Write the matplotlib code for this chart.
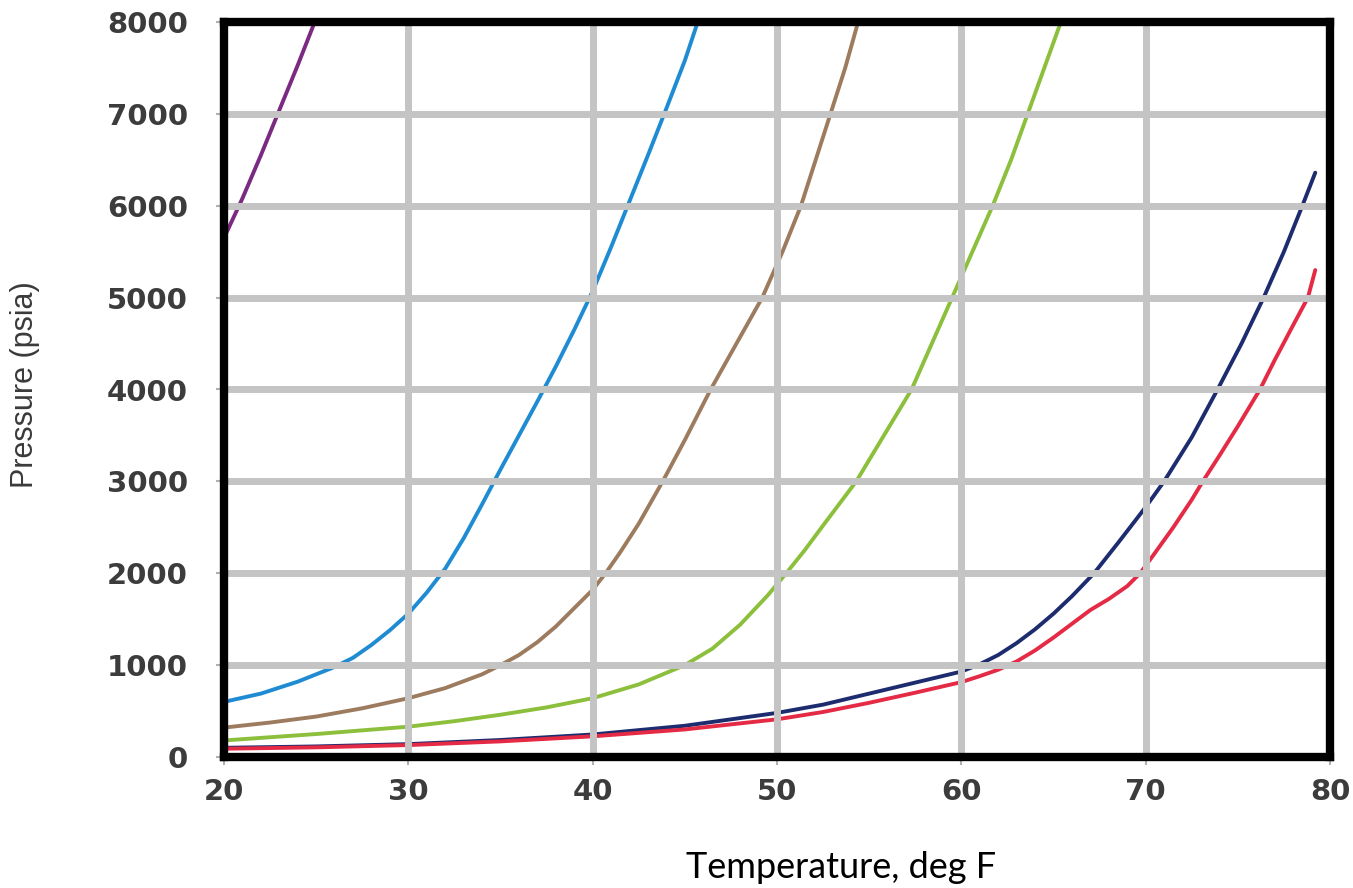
import matplotlib
matplotlib.use("Agg")
import matplotlib.pyplot as plt
from matplotlib.font_manager import FontProperties

# ---- data ----
purple_T = [20, 21, 22, 23, 24, 25]
purple_P = [5650, 6080, 6550, 7040, 7530, 8040]

blue_T = [20, 22, 24, 26, 27, 28, 29, 30, 31, 32, 33, 34, 35, 36, 37, 38, 39, 40,
          41, 42, 43, 44, 45, 45.7]
blue_P = [600, 690, 820, 980, 1080, 1220, 1380, 1560, 1790, 2050, 2380, 2750, 3130,
          3500, 3870, 4250, 4650, 5070, 5550, 6050, 6550, 7060, 7580, 8000]

brown_T = [20, 22.5, 25, 27.5, 30, 32, 34, 35, 36, 37, 38, 39, 40, 40.7, 41.5, 42.5,
           43.8, 45, 46.4, 47.8, 49.2, 50.3, 51.3, 52.1, 52.9, 53.7, 54.4]
brown_P = [320, 375, 440, 530, 640, 750, 900, 1000, 1110, 1250, 1420, 1620, 1820, 2000,
           2230, 2540, 3000, 3450, 4000, 4500, 5000, 5500, 6000, 6500, 7000, 7500, 8000]

green_T = [20, 22.5, 25, 27.5, 30, 32.5, 35, 37.5, 40, 42.5, 45, 46.5, 48, 49.5, 50.5,
           51.5, 52.5, 54.3, 55.8, 57.3, 58.4, 59.5, 60.6, 61.7, 62.7, 63.6, 64.5, 65.4]
green_P = [180, 215, 250, 290, 330, 390, 460, 540, 640, 790, 1000, 1180, 1440, 1760, 2000,
           2250, 2520, 3000, 3500, 4000, 4500, 5000, 5500, 6000, 6500, 7000, 7500, 8000]

navy_T = [20, 25, 30, 35, 40, 45, 50, 52.5, 55, 57.5, 60, 61, 62, 63, 64, 65, 66, 67.2,
          68.5, 70, 71, 72.5, 73.9, 75.2, 76.4, 77.5, 78.5, 79.2]
navy_P = [100, 115, 140, 185, 245, 340, 480, 570, 690, 810, 930, 1010, 1110, 1240, 1390,
          1560, 1750, 2000, 2330, 2720, 3000, 3480, 4000, 4500, 5000, 5500, 6000, 6360]

red_T = [20, 25, 30, 35, 40, 45, 50, 52.5, 55, 57.5, 60, 61, 62, 63, 64, 65, 66, 67,
         68, 69, 69.7, 70.5, 71.5, 72.5, 73.1, 74, 75, 76.2, 77, 78, 78.8, 79.2]
red_P = [90, 105, 130, 170, 225, 300, 410, 490, 590, 700, 815, 880, 950, 1040, 1160, 1300,
         1450, 1600, 1720, 1860, 2000, 2220, 2500, 2800, 3000, 3280, 3600, 4000, 4320, 4700,
         5000, 5300]

x_ticks = [20, 30, 40, 50, 60, 70, 80]
y_ticks = [0, 1000, 2000, 3000, 4000, 5000, 6000, 7000, 8000]

W, H = 1353, 888
fig = plt.figure(figsize=(W / 100, H / 100), dpi=100)
fig.patch.set_facecolor("white")
ax = fig.add_axes([224 / W, 1 - 757 / H, 1106 / W, 735 / H])

series = [
    (purple_T, purple_P, "#7a2a80"),
    (blue_T, blue_P, "#1f8bd3"),
    (brown_T, brown_P, "#9d7b5e"),
    (green_T, green_P, "#8cbf3c"),
    (navy_T, navy_P, "#1d2c6e"),
    (red_T, red_P, "#e42a45"),
]
for t, p, c in series:
    ax.plot(t, p, color=c, lw=2.8, solid_capstyle="round", solid_joinstyle="round", zorder=2)

ax.set_xlim(20, 80)
ax.set_ylim(0, 8000)
ax.set_xticks(x_ticks)
ax.set_yticks(y_ticks)
ax.set_axisbelow(False)
ax.grid(True, color="#c4c4c4", lw=5, zorder=2.5)

for s in ax.spines.values():
    s.set_linewidth(6)
    s.set_color("black")
    s.set_zorder(3)

tick_fp = FontProperties(family="DejaVu Sans", weight="bold", size=21)
ax.tick_params(axis="both", colors="#b0b0b0", length=6, width=1.5, direction="out")
ax.tick_params(axis="y", pad=20)
ax.tick_params(axis="x", pad=9)
for lab in ax.get_xticklabels() + ax.get_yticklabels():
    lab.set_fontproperties(tick_fp)
    lab.set_color("#3c3c3c")

fig.text(25 / W, 1 - 385 / H, "Pressure (psia)", rotation=90, ha="center", va="center",
         family="Liberation Sans", size=22, color="#3a3a3a")
fig.text(841 / W, 1 - 878 / H, "Temperature, deg F", ha="center", va="baseline",
         family="Lato", size=26, color="black")

fig.savefig("out.png", dpi=100, facecolor="white")
